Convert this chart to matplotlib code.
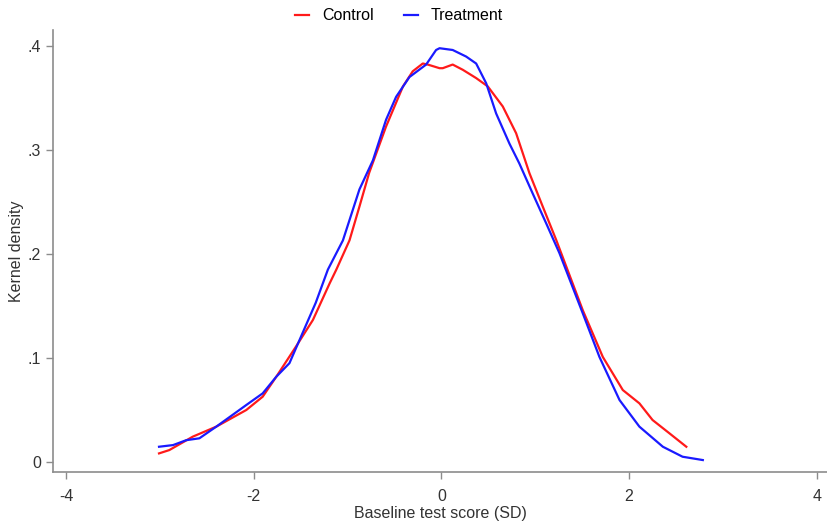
import matplotlib
matplotlib.use('Agg')
import matplotlib.pyplot as plt
from matplotlib.ticker import FixedLocator

plt.rcParams['font.family'] = ['Liberation Sans', 'DejaVu Sans']
plt.rcParams['axes.unicode_minus'] = False

# kernel density curves
control_x = [-3.01, -2.90, -2.65, -2.40, -2.08, -1.905, -1.76, -1.55, -1.37, -1.19,
             -1.12, -0.98, -0.874, -0.77, -0.59, -0.41, -0.306, -0.199, -0.146, -0.02,
             0.014, 0.12, 0.227, 0.37, 0.494, 0.654, 0.796, 0.938, 1.08, 1.223,
             1.33, 1.506, 1.72, 1.933, 2.11, 2.25, 2.43, 2.61]
control_y = [0.0083, 0.0115, 0.0244, 0.034, 0.050, 0.0628, 0.082, 0.111, 0.1365, 0.172,
             0.185, 0.213, 0.2455, 0.278, 0.3225, 0.361, 0.3755, 0.383, 0.382, 0.3785,
             0.3785, 0.382, 0.377, 0.369, 0.361, 0.3417, 0.316, 0.2776, 0.2455, 0.2135,
             0.188, 0.146, 0.101, 0.0692, 0.0564, 0.0404, 0.0276, 0.0147]

treat_x = [-3.01, -2.86, -2.72, -2.58, -2.40, -2.08, -1.905, -1.76, -1.62, -1.48,
           -1.34, -1.21, -1.05, -0.874, -0.73, -0.59, -0.483, -0.341, -0.163, -0.057,
           -0.02, 0.12, 0.263, 0.37, 0.477, 0.583, 0.725, 0.83, 0.973, 1.116,
           1.258, 1.506, 1.684, 1.898, 2.11, 2.36, 2.57, 2.786]
treat_y = [0.0147, 0.0163, 0.021, 0.0228, 0.034, 0.0548, 0.066, 0.082, 0.095, 0.124,
           0.153, 0.185, 0.213, 0.262, 0.290, 0.329, 0.351, 0.370, 0.382, 0.396,
           0.3977, 0.396, 0.3897, 0.383, 0.364, 0.335, 0.306, 0.287, 0.258, 0.2295,
           0.2007, 0.143, 0.101, 0.0596, 0.034, 0.0147, 0.0051, 0.0019]

x_ticks = [-4, -2, 0, 2, 4]
y_ticks = [0, 0.1, 0.2, 0.3, 0.4]
y_labels = ['0', '.1', '.2', '.3', '.4']

fig = plt.figure(figsize=(8.28, 5.21), dpi=100)
ax = fig.add_axes([0.064, 0.094, 0.936, 0.848])

ax.plot(control_x, control_y, color='#ff1a1a', linewidth=1.6, label='Control')
ax.plot(treat_x, treat_y, color='#1a1aff', linewidth=1.6, label='Treatment')

ax.set_xlim(-4.14, 4.12)
ax.set_ylim(-0.0096, 0.415)
ax.xaxis.set_major_locator(FixedLocator(x_ticks))
ax.set_yticks(y_ticks)
ax.set_yticklabels(y_labels)

for s in ['top', 'right']:
    ax.spines[s].set_visible(False)
for s in ['left', 'bottom']:
    ax.spines[s].set_color('#8c8c8c')
    ax.spines[s].set_linewidth(1.2)
ax.tick_params(colors='#8c8c8c', labelcolor='#333333', labelsize=11.5, length=5, width=1)
ax.tick_params(axis='x', pad=7)

ax.set_xlabel('Baseline test score (SD)', fontsize=11.5, color='#333333', labelpad=2)
ax.set_ylabel('Kernel density', fontsize=11.5, color='#333333', labelpad=3)

fig.legend(loc='upper center', bbox_to_anchor=(0.482, 1.012), ncol=2, frameon=False,
           fontsize=11.5, handlelength=0.9, columnspacing=1.9, handletextpad=0.8)

plt.savefig('out.png', dpi=100)
plt.close()
